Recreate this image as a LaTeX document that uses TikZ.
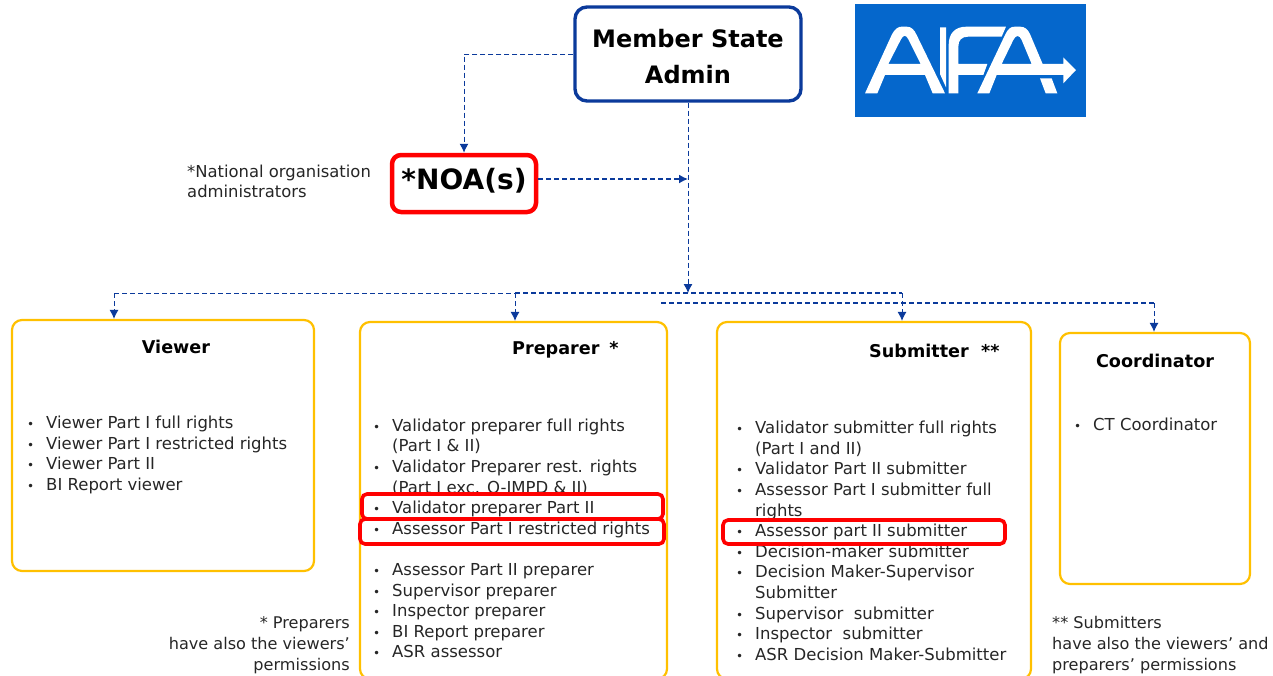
\documentclass[tikz,border=0pt]{standalone}
\usepackage{fontspec}
\usetikzlibrary{arrows.meta}
\setmainfont{DejaVu Sans}
\definecolor{adminblue}{HTML}{0B3A9B}
\definecolor{logoblue}{HTML}{0567CC}
\definecolor{rolegold}{HTML}{FFC000}
\definecolor{markred}{HTML}{FF0000}
\definecolor{bodygrey}{HTML}{262626}
\newcommand{\itm}{\makebox[19pt][l]{\fontsize{12}{12}\selectfont\textbullet}}
\newcommand{\ind}{\hspace*{19pt}}
\tikzset{
  link/.style={adminblue, dash pattern=on 5pt off 3pt, >={Latex[length=9pt, width=9pt]}, line width=1pt},
  rolebox/.style={draw=rolegold, line width=2.2pt, rounded corners=10pt, inner sep=0pt},
  markbox/.style={draw=markred, line width=3.6pt, rounded corners=5pt, inner sep=0pt},
  roletitle/.style={font=\fontsize{17.6}{20}\selectfont\bfseries, inner sep=0pt},
  rolelist/.style={font=\fontsize{16.5}{20.6}\selectfont, text=bodygrey, align=left, anchor=north west, inner sep=0pt},
  rolenote/.style={rolelist, font=\fontsize{16.1}{21}\selectfont},
}
\begin{document}
\begin{tikzpicture}[x=1pt, y=-1pt]
  \useasboundingbox (0,0) rectangle (1273,675);

  \node[draw=adminblue, line width=3.4pt, rounded corners=12pt, minimum width=226pt, minimum height=94pt, align=center, font=\fontsize{24}{36}\selectfont\bfseries] (admin) at (688,54) {\rule{0pt}{24pt}Member State\\ Admin};
  \node[draw=markred, line width=4.5pt, rounded corners=9pt, minimum width=144pt, minimum height=57pt, text height=21pt, text depth=9pt, font=\fontsize{28}{28}\selectfont\bfseries] (noa) at (464,183.5) {*NOA(s)};
  \node[rolelist, font=\fontsize{16.4}{20}\selectfont] (noanote) at (187,165) {*National organisation\\ administrators};

  % logo
  \node[fill=logoblue, minimum width=231pt, minimum height=113pt, inner sep=0pt] (logo) at (970.5,60.5) {};
  \begin{scope}[xshift=850pt, x=0.3333pt, y=-0.3333pt]
    \fill[white, even odd rule] (45,280) -- (125,105) .. controls (135,85) and (145,80) .. (155,80) -- (170,80) .. controls (185,80) and (193,90) .. (200,105) -- (285,280) -- (248,280) -- (225,225) -- (105,225) -- (82,280) -- cycle
      (115,192) -- (212,192) -- (175,118) .. controls (168,104) and (160,104) .. (153,118) -- cycle;
    \fill[white] (270,82) -- (288,82) -- (288,262) -- (270,222) -- cycle;
    \fill[white] (296,280) -- (296,135) .. controls (296,100) and (315,80) .. (350,80) -- (468,80) -- (455,110) -- (355,110) .. controls (335,110) and (325,120) .. (325,140) -- (325,192) -- (412,192) -- (400,225) -- (325,225) -- (325,280) -- cycle;
    \fill[white, even odd rule] (382,280) -- (465,105) .. controls (475,85) and (482,80) .. (495,80) -- (510,80) .. controls (525,80) and (533,88) .. (540,102) -- (578,192) -- (640,192) -- (640,172) -- (678,210) -- (640,250) -- (640,225) -- (440,225) -- (418,280) -- cycle
      (455,192) -- (545,192) -- (515,120) .. controls (508,104) and (498,104) .. (490,120) -- cycle;
    \fill[white] (570,235) -- (605,235) -- (622,280) -- (587,280) -- cycle;
  \end{scope}

  % role boxes
  \node[rolebox, minimum width=302pt, minimum height=251pt] (viewer) at (163,445.5) {};
  \node[rolebox, minimum width=307pt, minimum height=357pt] (preparer) at (513.5,500.5) {};
  \node[rolebox, minimum width=314pt, minimum height=357pt] (submitter) at (874,500.5) {};
  \node[rolebox, minimum width=190pt, minimum height=251pt] (coordinator) at (1155,458.5) {};

  \node[roletitle] (viewertitle) at (176,347) {Viewer};
  \node[roletitle, anchor=west] (preparertitle) at (512,350) {Preparer\hspace{10pt}*};
  \node[roletitle, anchor=west] (submittertitle) at (869,351) {Submitter\ \ **};
  \node[roletitle] (coordinatortitle) at (1155,361) {Coordinator};

  \node[rolelist] (viewerlist) at (27,416) {\itm Viewer Part I full rights\\ \itm Viewer Part I restricted rights\\ \itm Viewer Part II\\ \itm BI Report viewer};
  \node[rolelist] (preparerlist) at (373,418.5) {\itm Validator preparer full rights\\ \ind (Part I \& II)\\ \itm Validator Preparer rest. rights\\ \ind (Part I exc. Q-IMPD \& II)\\ \itm Validator preparer Part II\\ \itm Assessor Part I restricted rights\\ ~\\ \itm Assessor Part II preparer\\ \itm Supervisor preparer\\ \itm Inspector preparer\\ \itm BI Report preparer\\ \itm ASR assessor};
  \node[rolelist] (submitterlist) at (736,421) {\itm Validator submitter full rights\\ \ind (Part I and II)\\ \itm Validator Part II submitter\\ \itm Assessor Part I submitter full\\ \ind rights\\ \itm Assessor part II submitter\\ \itm Decision-maker submitter\\ \itm Decision Maker-Supervisor\\ \ind Submitter\\ \itm Supervisor\ \ submitter\\ \itm Inspector\ \ submitter\\ \itm ASR Decision Maker-Submitter};
  \node[rolelist] (coordinatorlist) at (1074,418) {\itm CT Coordinator};

  \node[rolenote, align=right, anchor=north east] (preparernote) at (350,616) {* Preparers\\ have also the viewers'\\ permissions};
  \node[rolenote] (submitternote) at (1052,616) {** Submitters\\ have also the viewers' and\\ preparers' permissions};

  % highlights
  \node[markbox, minimum width=301pt, minimum height=25pt] (markone) at (512.5,506.5) {};
  \node[markbox, minimum width=304pt, minimum height=25pt] (marktwo) at (512,531.5) {};
  \node[markbox, minimum width=282pt, minimum height=24pt] (markthree) at (864,532) {};

  % connectors
  \coordinate (hub) at (688,179);
  \coordinate (noaout) at (538,179);
  \coordinate (busup) at (688,293);
  \coordinate (busleft) at (114,293);
  \coordinate (busmid) at (515,293);
  \coordinate (busright) at (902,293);
  \coordinate (lowstart) at (661,303);
  \coordinate (lowend) at (1154,303);

  \draw[link, ->] (admin.west) -| (noa.north);
  \draw[link, ->, line width=1.5pt] (noaout) -- (hub);
  \draw[link, ->] (admin.south) -- (busup);
  \draw[link] (busleft) -- (busmid);
  \draw[link, line width=1.4pt] (busmid) -- (busright);
  \draw[link, ->] (busleft) -- (viewer.north -| busleft);
  \draw[link, ->] (busmid) -- (preparer.north -| busmid);
  \draw[link, ->] (busright) -- (submitter.north -| busright);
  \draw[link, line width=1.4pt] (lowstart) -- (lowend);
  \draw[link, ->] (lowend) -- (coordinator.north -| lowend);
\end{tikzpicture}
\end{document}
